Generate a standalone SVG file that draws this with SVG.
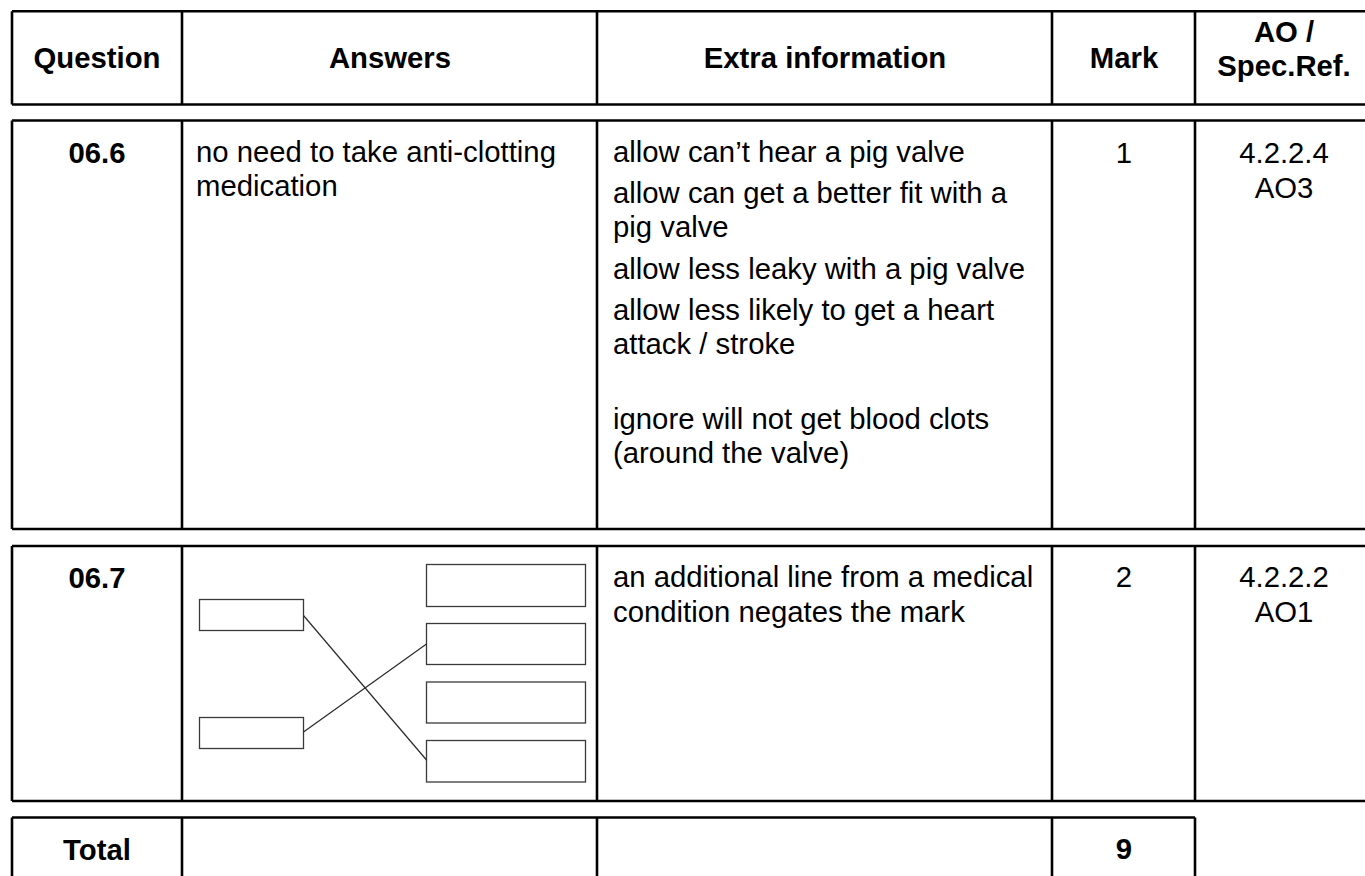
<svg xmlns="http://www.w3.org/2000/svg" width="1365" height="876" viewBox="0 0 1365 876">
<style>
.t{font-family:"Liberation Sans",Arial,sans-serif;font-size:29.3px;fill:#000}
.b{font-weight:bold}
.c{text-anchor:middle}
.g{fill:none;stroke:#000;stroke-width:2.6}
.fb{fill:#fff;stroke:#3a3a3a;stroke-width:1.3}
.fl{stroke:#2a2a2a;stroke-width:1.2;fill:none}
</style>
<rect width="1365" height="876" fill="#fff"/>

<g id="header">
<path class="g" d="M12 11.3H1370M12 104.5H1370M12 11.3V104.5M182 11.3V104.5M597 11.3V104.5M1052 11.3V104.5M1195 11.3V104.5"/>
<text class="t b c" x="97" y="68">Question</text>
<text class="t b c" x="390" y="68">Answers</text>
<text class="t b c" x="825" y="68">Extra information</text>
<text class="t b c" x="1124" y="68">Mark</text>
<text class="t b c" x="1284" y="42">AO /</text>
<text class="t b c" x="1284" y="76">Spec.Ref.</text>
</g>

<g id="row-066">
<path class="g" d="M12 120.5H1370M12 529H1370M12 120.5V529M182 120.5V529M597 120.5V529M1052 120.5V529M1195 120.5V529"/>
<text class="t b c" x="97" y="163">06.6</text>
<text class="t" x="196" y="162">no need to take anti-clotting</text>
<text class="t" x="196" y="196">medication</text>
<text class="t" x="613" y="162">allow can’t hear a pig valve</text>
<text class="t" x="613" y="203">allow can get a better fit with a</text>
<text class="t" x="613" y="237">pig valve</text>
<text class="t" x="613" y="279">allow less leaky with a pig valve</text>
<text class="t" x="613" y="320">allow less likely to get a heart</text>
<text class="t" x="613" y="354">attack / stroke</text>
<text class="t" x="613" y="429">ignore will not get blood clots</text>
<text class="t" x="613" y="463">(around the valve)</text>
<text class="t c" x="1124" y="163">1</text>
<text class="t c" x="1284" y="163">4.2.2.4</text>
<text class="t c" x="1284" y="198">AO3</text>
</g>

<g id="row-067">
<path class="g" d="M12 546H1370M12 801H1370M12 546V801M182 546V801M597 546V801M1052 546V801M1195 546V801"/>
<text class="t b c" x="97" y="588">06.7</text>
<text class="t" x="613" y="587">an additional line from a medical</text>
<text class="t" x="613" y="622">condition negates the mark</text>
<text class="t c" x="1124" y="587">2</text>
<text class="t c" x="1284" y="587">4.2.2.2</text>
<text class="t c" x="1284" y="622">AO1</text>
</g>

<g id="figure">
<rect class="fb" x="199.5" y="599.5" width="104" height="31"/>
<rect class="fb" x="199.5" y="717.5" width="104" height="31"/>
<rect class="fb" x="426.5" y="564.5" width="159" height="42"/>
<rect class="fb" x="426.5" y="623.5" width="159" height="41"/>
<rect class="fb" x="426.5" y="682" width="159" height="41"/>
<rect class="fb" x="426.5" y="740.5" width="159" height="41.5"/>
</g>

<g id="connectors">
<line class="fl" x1="303.5" y1="615.5" x2="426.5" y2="760"/>
<line class="fl" x1="303.5" y1="732" x2="426.5" y2="644"/>
</g>

<g id="total-row">
<path class="g" d="M12 817.5H1195M12 817.5V880M182 817.5V880M597 817.5V880M1052 817.5V880M1195 817.5V880"/>
<text class="t b c" x="97" y="860">Total</text>
<text class="t b c" x="1124" y="859">9</text>
</g>
</svg>
